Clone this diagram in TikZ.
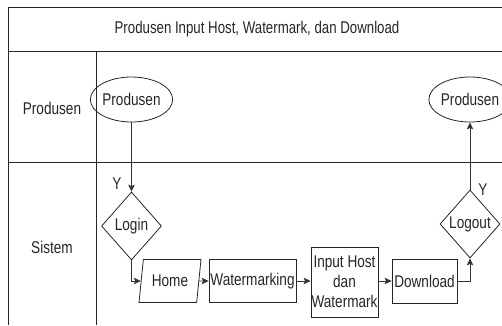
\documentclass[tikz,border=0pt]{standalone}
\usepackage{fontspec}
\setmainfont{Liberation Sans}[FakeStretch=0.8]
\newfontfamily\titlefont{Liberation Sans}[FakeStretch=0.78]
\usetikzlibrary{shapes.geometric,arrows.meta}
\begin{document}
\begin{tikzpicture}[x=1pt,y=-1pt,
  every node/.style={font=\fontsize{17}{20}\selectfont, text=black!85, inner sep=0pt},
  frame/.style={draw=black!85, line width=0.8pt},
  terminal/.style={ellipse, draw=black!85, line width=0.8pt, minimum width=66pt, minimum height=45pt},
  decision/.style={diamond, draw=black!85, line width=0.8pt, minimum width=60pt, minimum height=68pt},
  process/.style={rectangle, draw=black!85, line width=0.8pt, minimum height=43pt, align=center},
  iobox/.style={trapezium, trapezium left angle=76, trapezium right angle=104, trapezium stretches=true,
                draw=black!85, line width=0.8pt, minimum width=62pt, minimum height=43pt},
  flow/.style={draw=black!80, line width=0.8pt, -{Stealth[length=7pt,width=6.5pt,inset=1.5pt]}},
  lanelabel/.style={font=\fontsize{17}{20}\selectfont}
]
\useasboundingbox (0,0) rectangle (502,325);

% swimlane frame
\draw[frame] (8,325) -- (8,7) -- (502,7);
\draw[frame] (8,51) -- (502,51);
\draw[frame] (8,162) -- (502,162);
\draw[frame] (96,51) -- (96,325);

% headings
\node[font=\titlefont\fontsize{17}{20}\selectfont] (title) at (257,29) {Produsen Input Host, Watermark, dan Download};
\node[lanelabel] (laneP) at (52,108) {Produsen};
\node[lanelabel] (laneS) at (52,247) {Sistem};

% flow nodes
\node[terminal] (p1) at (131.5,99.5) {Produsen};
\node[decision] (login) at (131.5,226) {Login};
\node[iobox] (home) at (170,281) {Home};
\node[process, minimum width=87pt] (wm) at (252.5,281) {Watermarking};
\node[process, minimum width=67pt, minimum height=70pt] (input) at (344.5,282)
  {Input Host\\dan\\Watermark};
\node[process, minimum width=65pt, minimum height=44pt] (dl) at (424.5,281) {Download};
\node[decision] (logout) at (470,224) {Logout};
\node[terminal, minimum width=64pt] (p2) at (470,99.5) {Produsen};

% connectors
\draw[flow] (p1.south) -- (login.north);
\node (y1) at (117,184) {Y};
\draw[flow] (login.south) |- (home.west);
\draw[flow] (home.east) -- (wm.west);
\draw[flow] (wm.east) -- (wm.east -| input.west);
\draw[flow] (wm.east -| input.east) -- (wm.east -| dl.west);
\draw[flow] (dl.east) -| (logout.south);
\draw[flow] (logout.north) -- (p2.south);
\node (y2) at (483,190) {Y};
\end{tikzpicture}
\end{document}
